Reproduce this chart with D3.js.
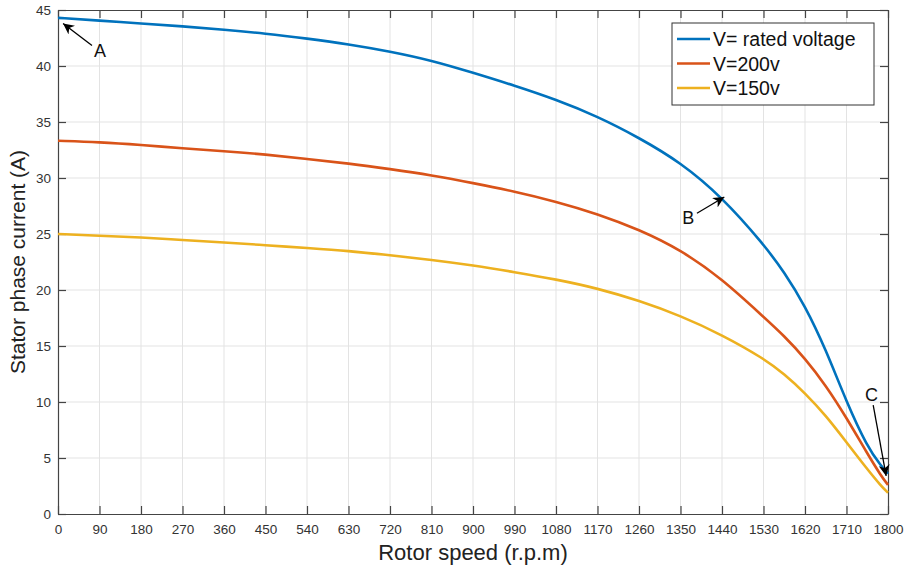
<!DOCTYPE html>
<html>
<head>
<meta charset="utf-8">
<script src="https://cdn.jsdelivr.net/npm/d3@7"></script>
<style>
  body { margin: 0; background: #fff; }
  svg { display: block; font-family: "Liberation Sans", Arial, sans-serif; }
</style>
</head>
<body>
<svg id="chart" width="906" height="568"></svg>
<script>
// rotor speed samples (r.p.m)
const speed = [0, 90, 180, 270, 360, 450, 540, 630, 720, 810, 900, 990, 1080, 1170,
               1260, 1350, 1440, 1530, 1575, 1620, 1665, 1710, 1755, 1785, 1800]

// stator phase current (A) for each supply voltage
const ratedV = [44.3, 44.05, 43.8, 43.55, 43.25, 42.9, 42.45, 41.95, 41.3, 40.5, 39.4, 38.25, 37.0, 35.5,
                33.6, 31.4, 28.3, 24.1, 21.6, 18.6, 14.7, 10.0, 6.0, 4.3, 3.6]
const v200 = [33.33, 33.2, 32.95, 32.65, 32.4, 32.1, 31.7, 31.3, 30.8, 30.25, 29.55, 28.8, 27.9, 26.8,
              25.4, 23.6, 21.0, 17.6, 15.9, 13.9, 11.5, 8.6, 5.4, 3.4, 2.6]
const v150 = [25.0, 24.85, 24.7, 24.46, 24.25, 24.0, 23.75, 23.5, 23.1, 22.7, 22.2, 21.6, 20.95, 20.15,
              19.05, 17.7, 16.0, 13.9, 12.5, 10.8, 8.8, 6.4, 4.0, 2.5, 1.9]

const seriesNames = ['V= rated voltage', 'V=200v', 'V=150v']
const seriesColors = ['#0072BD', '#D95319', '#EDB120']

const xTicks = d3.range(0, 1801, 90)
const yTicks = d3.range(0, 46, 5)

// annotation arrows: tip and label in data units
const notes = [
    { label: 'A', tip: [11, 43.8], at: [91, 41.3] },
    { label: 'B', tip: [1445, 28.3], at: [1367, 26.4] },
    { label: 'C', tip: [1796, 3.4], at: [1764, 10.6] }
]

const svg = d3.select('#chart')
const margin = { left: 58, right: 18, top: 10, bottom: 54 }
const width = 906 - margin.left - margin.right
const height = 568 - margin.top - margin.bottom

const x = d3.scaleLinear().domain([0, 1800]).range([0, width])
const y = d3.scaleLinear().domain([0, 45]).range([height, 0])

svg.append('defs').append('marker')
    .attr('id', 'head')
    .attr('viewBox', '0 0 10 10')
    .attr('refX', 10).attr('refY', 5)
    .attr('markerWidth', 11).attr('markerHeight', 11)
    .attr('markerUnits', 'userSpaceOnUse')
    .attr('orient', 'auto')
    .append('path')
    .attr('d', 'M0,0 L10,5 L0,10 L3,5 Z')
    .attr('fill', '#000')

const g = svg.append('g').attr('transform', `translate(${margin.left},${margin.top})`)

// grid
g.append('g').selectAll('line').data(xTicks.slice(1, -1)).enter().append('line')
    .attr('x1', d => x(d)).attr('x2', d => x(d))
    .attr('y1', 0).attr('y2', height)
    .attr('stroke', '#e3e3e3').attr('stroke-width', 1)
g.append('g').selectAll('line').data(yTicks.slice(1, -1)).enter().append('line')
    .attr('y1', d => y(d)).attr('y2', d => y(d))
    .attr('x1', 0).attr('x2', width)
    .attr('stroke', '#e3e3e3').attr('stroke-width', 1)

// axes with inward ticks, box on all sides
const axisColor = '#444'
const styleAxis = sel => {
    sel.select('.domain').attr('stroke', axisColor).attr('stroke-width', 1.2)
    sel.selectAll('.tick line').attr('stroke', axisColor).attr('stroke-width', 1.2)
    sel.selectAll('.tick text').attr('fill', '#333').style('font-size', '13.5px')
}

g.append('g').attr('transform', `translate(0,${height})`)
    .call(d3.axisBottom(x).tickValues(xTicks).tickFormat(d3.format('d'))
        .tickSizeInner(-8).tickSizeOuter(0).tickPadding(7))
    .call(styleAxis)
    .selectAll('.tick text').attr('dy', '0.95em')
g.append('g')
    .call(d3.axisLeft(y).tickValues(yTicks).tickFormat(d3.format('d'))
        .tickSizeInner(-8).tickSizeOuter(0).tickPadding(7))
    .call(styleAxis)
g.append('g')
    .call(d3.axisTop(x).tickValues(xTicks).tickSizeInner(-8).tickSizeOuter(0).tickFormat(''))
    .call(styleAxis)
g.append('g').attr('transform', `translate(${width},0)`)
    .call(d3.axisRight(y).tickValues(yTicks).tickSizeInner(-8).tickSizeOuter(0).tickFormat(''))
    .call(styleAxis)

// curves
const line = d3.line()
    .x((d, i) => x(speed[i]))
    .y(d => y(d))
    .curve(d3.curveBasis)

g.selectAll('path.curve').data([ratedV, v200, v150]).enter().append('path')
    .attr('class', 'curve')
    .attr('d', line)
    .attr('fill', 'none')
    .attr('stroke', (d, i) => seriesColors[i])
    .attr('stroke-width', 2.6)

// annotations
notes.forEach(n => {
    const tx = x(n.tip[0]), ty = y(n.tip[1])
    const lx = x(n.at[0]), ly = y(n.at[1])
    const dx = tx - lx, dy = ty - ly, len = Math.hypot(dx, dy)
    const off = 10
    g.append('line')
        .attr('x1', lx + dx / len * off).attr('y1', ly + dy / len * off)
        .attr('x2', tx).attr('y2', ty)
        .attr('stroke', '#000').attr('stroke-width', 1.3)
        .attr('marker-end', 'url(#head)')
    g.append('text')
        .attr('x', lx).attr('y', ly)
        .attr('text-anchor', 'middle').attr('dominant-baseline', 'central')
        .style('font-size', '18px').attr('fill', '#111')
        .text(n.label)
})

// legend
const legend = g.append('g').attr('transform', `translate(${width - 216},13)`)
legend.append('rect')
    .attr('width', 202).attr('height', 82)
    .attr('fill', '#fff').attr('stroke', '#333').attr('stroke-width', 1)
seriesNames.forEach((name, i) => {
    const row = legend.append('g').attr('transform', `translate(0,${16 + i * 24.5})`)
    row.append('line').attr('x1', 5).attr('x2', 38).attr('y1', 0).attr('y2', 0)
        .attr('stroke', seriesColors[i]).attr('stroke-width', 2.6)
    row.append('text').attr('x', 41).attr('y', 0).attr('dominant-baseline', 'central')
        .style('font-size', '19.5px').attr('fill', '#111')
        .text(name)
})

// axis titles
svg.append('text')
    .attr('x', margin.left + width / 2).attr('y', 560)
    .attr('text-anchor', 'middle')
    .style('font-size', '22px').attr('fill', '#222')
    .text('Rotor speed (r.p.m)')
svg.append('text')
    .attr('transform', `translate(25,${margin.top + height / 2}) rotate(-90)`)
    .attr('text-anchor', 'middle')
    .style('font-size', '21px').attr('fill', '#222')
    .text('Stator phase current (A)')
</script>
</body>
</html>
